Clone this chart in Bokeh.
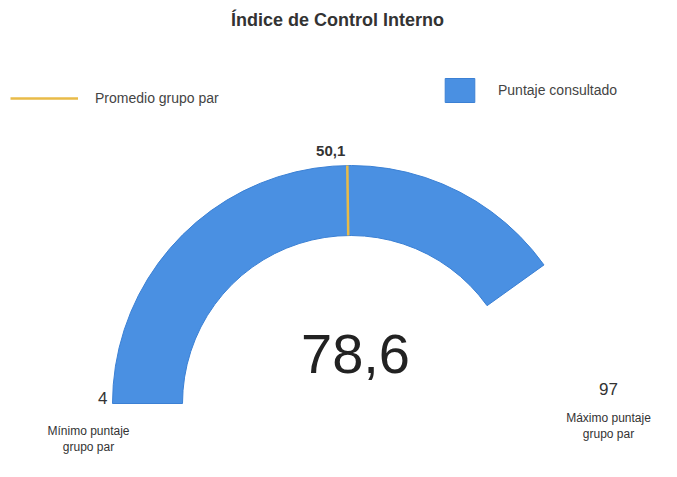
import math
from bokeh.plotting import figure
from bokeh.models import Legend, LegendItem, Range1d, Label
from bokeh.embed import file_html
from bokeh.resources import INLINE
from bokeh.core.properties import value

# ---- data ----
chart_title = "Índice de Control Interno"
min_score = 4
max_score = 97
score = 78.6
peer_average = 50.1
min_label = "4"
max_label = "97"
avg_label = "50,1"
score_label = "78,6"
min_caption = "Mínimo puntaje\ngrupo par"
max_caption = "Máximo puntaje\ngrupo par"
legend_avg = "Promedio grupo par"
legend_score = "Puntaje consultado"

# ---- layout / style ----
W, H = 661, 461
FONT = "Liberation Sans"
BLUE = "#4a90e2"
GOLD = "#e9bb48"
cx, cy = 350, 58          # gauge centre (data units = px)
r_out, r_in = 238, 168


def angle(v):
    return math.pi * (1 - (v - min_score) / (max_score - min_score))


p = figure(width=W, height=H, x_range=Range1d(0, W), y_range=Range1d(0, H),
           output_backend="svg", toolbar_location=None, min_border=0,
           x_axis_location=None, y_axis_location=None)
p.grid.visible = False
p.outline_line_color = None
p.background_fill_color = "white"

wedge = p.annular_wedge(x=[cx], y=[cy], inner_radius=r_in, outer_radius=r_out,
                        start_angle=angle(score), end_angle=angle(min_score),
                        direction="anticlock", fill_color=BLUE,
                        line_color="#3b80d4", line_width=1)

a = angle(peer_average)
seg = p.segment(x0=[cx + r_in * math.cos(a)], y0=[cy + r_in * math.sin(a)],
                x1=[cx + r_out * math.cos(a)], y1=[cy + r_out * math.sin(a)],
                line_color=GOLD, line_width=2.5)

# title
p.add_layout(Label(x=337, y=442, text=chart_title, text_font=FONT,
                   text_font_size="18px", text_font_style="bold",
                   text_color="#333333", text_align="center",
                   text_baseline="middle"))

# big value
p.text(x=[cx + 5], y=[cy + 50], text=[score_label], text_font=value(FONT),
       text_font_size="56px", text_color="#222222", text_align="center",
       text_baseline="middle")

# average label
p.text(x=[cx + r_out * math.cos(a) - 2], y=[cy + r_out * math.sin(a) + 15],
       text=[avg_label], text_font=value(FONT), text_font_size="15px",
       text_font_style="bold", text_color="#333333", text_align="right",
       text_baseline="middle")

# min / max
p.text(x=[cx - r_out - 5], y=[cy + 6], text=[min_label], text_font=value(FONT),
       text_font_size="17px", text_color="#333333", text_align="right",
       text_baseline="middle")
p.text(x=[cx + r_out + 20], y=[cy + 15], text=[max_label], text_font=value(FONT),
       text_font_size="17px", text_color="#333333", text_align="center",
       text_baseline="middle")
p.text(x=[cx - r_out - 24], y=[cy - 20], text=[min_caption], text_font=value(FONT),
       text_font_size="12px", text_color="#333333", text_align="center",
       text_baseline="top", text_line_height=1.2)
p.text(x=[cx + r_out + 20], y=[cy - 7], text=[max_caption], text_font=value(FONT),
       text_font_size="12px", text_color="#333333", text_align="center",
       text_baseline="top", text_line_height=1.2)

common = dict(padding=0, margin=0, border_line_color=None,
              background_fill_alpha=0, label_text_font=FONT,
              label_text_font_size="14px", label_text_color="#444444")
leg1 = Legend(items=[LegendItem(label=legend_avg, renderers=[seg])],
              location=(10, 353), glyph_width=68, glyph_height=20,
              label_standoff=17, **common)
leg2 = Legend(items=[LegendItem(label=legend_score, renderers=[wedge])],
              location=(441, 356), glyph_width=37, glyph_height=30,
              label_standoff=20, **common)
p.add_layout(leg1)
p.add_layout(leg2)

open("out.html", "w").write(file_html(p, INLINE))
